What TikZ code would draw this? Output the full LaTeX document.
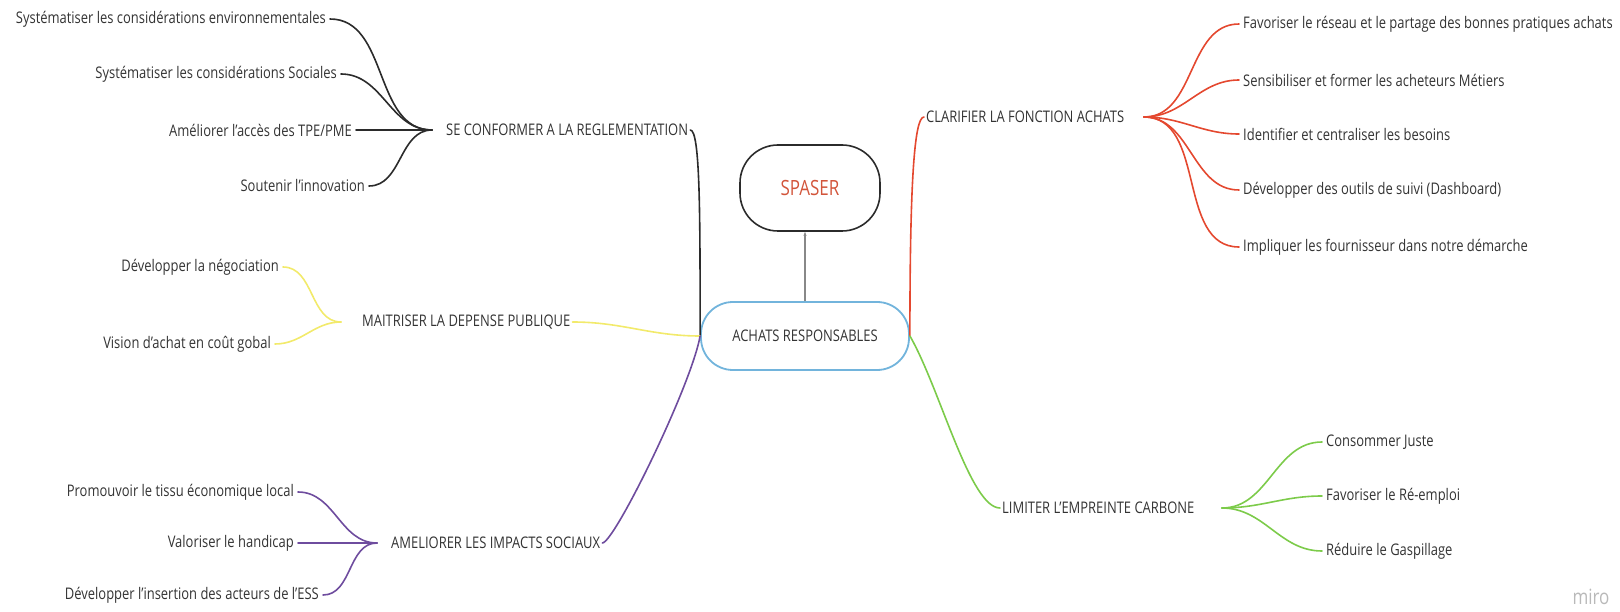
\documentclass[tikz,border=0pt]{standalone}
\usepackage{fontspec}
\setmainfont[FakeStretch=0.81]{Open Sans}
\usetikzlibrary{arrows.meta}
\definecolor{txt}{HTML}{333333}
\definecolor{blk}{HTML}{2B2B2B}
\definecolor{yel}{HTML}{F2EA6B}
\definecolor{pur}{HTML}{6E4C9E}
\definecolor{redl}{HTML}{E4482F}
\definecolor{grn}{HTML}{7CCB4A}
\definecolor{blu}{HTML}{72B4DC}
\definecolor{gry}{HTML}{888888}
\definecolor{spred}{HTML}{D2553B}
\tikzset{
  basetext/.style={text=txt, font=\fontsize{16}{18}\selectfont, inner ysep=1pt},
  leafL/.style={basetext, anchor=east, inner xsep=4pt},
  leafR/.style={basetext, anchor=west, inner xsep=4pt},
  cat/.style={basetext, anchor=west, inner xsep=2pt},
  conn/.style={line width=1.6pt, line cap=round},
}
\begin{document}
\begin{tikzpicture}[x=1pt,y=1pt]
\path[use as bounding box] (0,0) rectangle (1620,-612);

% hub nodes
\node[draw=blu, line width=1.8pt, rounded corners=32pt, minimum width=208pt, minimum height=68pt, basetext] (ach) at (805,-336) {ACHATS RESPONSABLES};
\node[draw=blk, line width=1.6pt, rounded corners=38pt, minimum width=140pt, minimum height=86pt, text=spred, font=\fontsize{21}{23}\selectfont] (spa) at (810,-188) {SPASER};
\draw[gry, line width=1.1pt, -{Stealth[length=4pt,width=3pt]}] (ach.north) -- (ach.north |- spa.south);

% black group
\node[leafL] (b1) at (330,-19) {Systématiser les considérations environnementales};
\node[leafL] (b2) at (341,-74) {Systématiser les considérations Sociales};
\node[leafL] (b3) at (356,-130) {Améliorer l’accès des TPE/PME};
\node[leafL] (b4) at (369,-186) {Soutenir l’innovation};
\coordinate (jse) at (432,-130);
\node[cat] (se) at (444,-130) {SE CONFORMER A LA REGLEMENTATION};
\foreach \n in {b1,b2,b3,b4} \draw[conn,blk] (\n.east) to[out=0,in=180] (jse);
\draw[conn,blk] (se.east) to[out=0,in=90,out distance=10pt,in distance=120pt] (ach.west);

% yellow group
\node[leafL] (y1) at (283,-267) {Développer la négociation};
\node[leafL] (y2) at (275,-344) {Vision d’achat en coût gobal};
\coordinate (jmai) at (341,-322);
\node[cat] (mai) at (360,-322) {MAITRISER LA DEPENSE PUBLIQUE};
\foreach \n in {y1,y2} \draw[conn,yel] (\n.east) to[out=0,in=180] (jmai);
\draw[conn,yel] (mai.east) to[out=0,in=180] (ach.west);

% purple group
\node[leafL] (p1) at (298,-492) {Promouvoir le tissu économique local};
\node[leafL] (p2) at (298,-543) {Valoriser le handicap};
\node[leafL] (p3) at (323,-595) {Développer l’insertion des acteurs de l’ESS};
\coordinate (jame) at (377,-543);
\node[cat] (ame) at (389,-543) {AMELIORER LES IMPACTS SOCIAUX};
\foreach \n in {p1,p2,p3} \draw[conn,pur] (\n.east) to[out=0,in=180] (jame);
\draw[conn,pur] (ame.east) to[out=0,in=260,out distance=12pt,in distance=50pt] (ach.west);

% red group
\node[cat] (cla) at (924,-117) {CLARIFIER LA FONCTION ACHATS};
\coordinate (jcla) at (1144,-117);
\node[leafR] (r1) at (1239,-24) {Favoriser le réseau et le partage des bonnes pratiques achats};
\node[leafR] (r2) at (1239,-80) {Sensibiliser et former les acheteurs Métiers};
\node[leafR] (r3) at (1239,-134) {Identifier et centraliser les besoins};
\node[leafR] (r4) at (1239,-190) {Développer des outils de suivi (Dashboard)};
\node[leafR] (r5) at (1239,-247) {Impliquer les fournisseur dans notre démarche};
\foreach \n in {r1,r2,r3,r4,r5} \draw[conn,redl] (jcla) to[out=0,in=180] (\n.west);
\draw[conn,redl] (ach.east) to[out=90,in=180,out distance=150pt,in distance=10pt] (cla.west);

% green group
\node[cat] (lim) at (1000,-508) {LIMITER L’EMPREINTE CARBONE};
\coordinate (jlim) at (1222,-508);
\node[leafR] (g1) at (1322,-442) {Consommer Juste};
\node[leafR] (g2) at (1322,-496) {Favoriser le Ré-emploi};
\node[leafR] (g3) at (1322,-551) {Réduire le Gaspillage};
\foreach \n in {g1,g2,g3} \draw[conn,grn] (jlim) to[out=0,in=180] (\n.west);
\draw[conn,grn] (ach.east) to[out=-60,in=180,out distance=60pt,in distance=30pt] (lim.west);

% watermark
\node[text=gray!55, font=\fontsize{21}{23}\selectfont] (miro) at (1591,-597) {miro};
\end{tikzpicture}
\end{document}
